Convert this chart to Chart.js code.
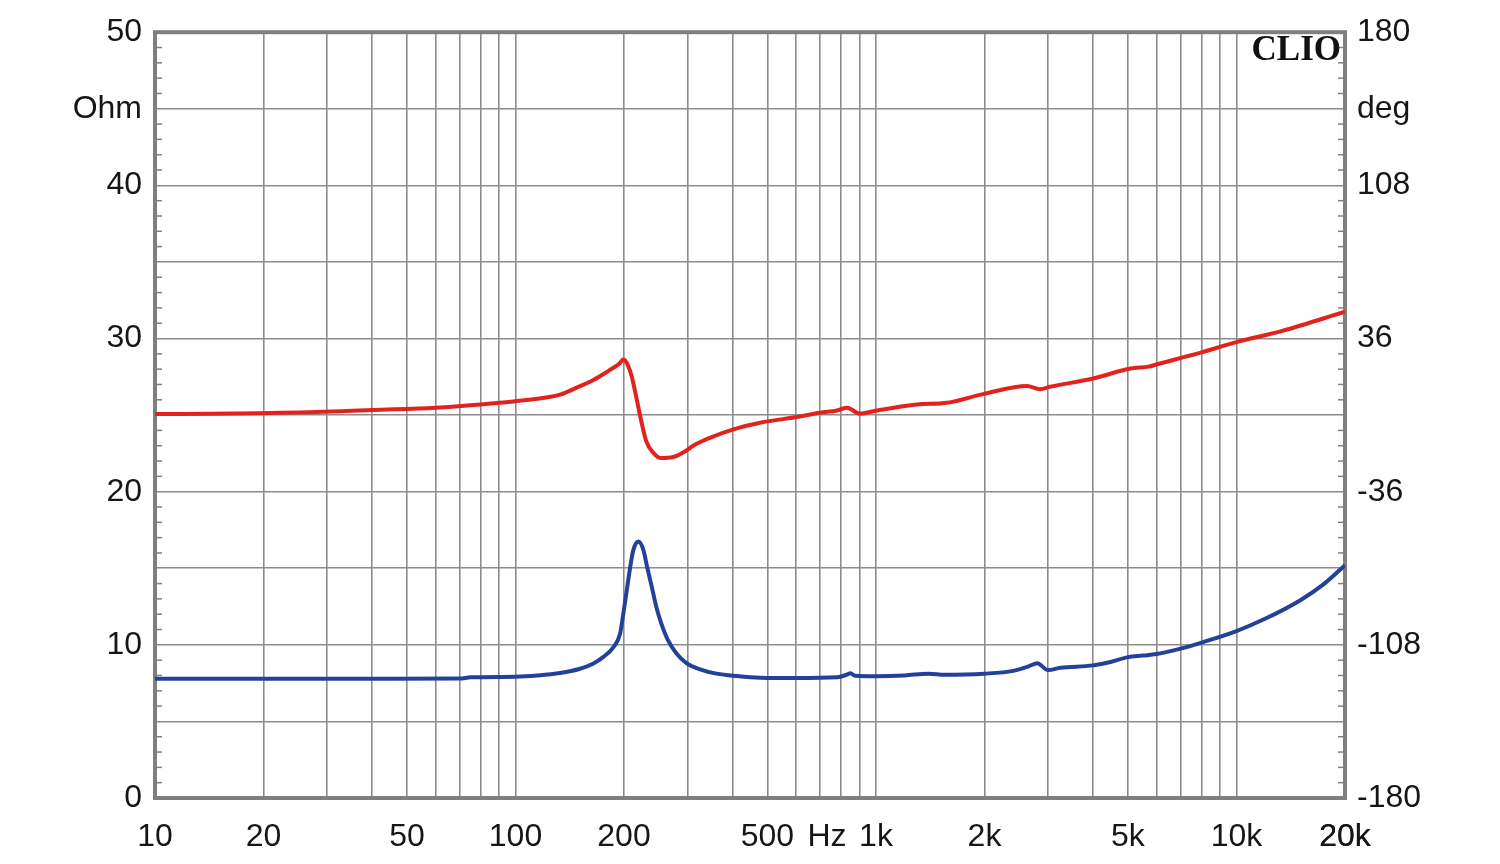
<!DOCTYPE html>
<html><head><meta charset="utf-8">
<script src="https://cdn.jsdelivr.net/npm/chart.js@4.4.1/dist/chart.umd.min.js"></script>
<style>html,body{margin:0;padding:0;background:#fff;} #wrap{width:1500px;height:864px;position:relative;}</style>
</head><body><div id="wrap"><canvas id="c"></canvas></div>
<script>
// ---- Data ----
const impFreq = [10, 20, 40, 70, 75, 100, 115, 133, 151, 164, 175, 187, 195, 199, 203.5, 208, 212, 219, 226, 232, 239, 246, 254, 265, 280, 298, 325, 361, 411, 477, 600, 780, 830, 850, 875, 1000, 1200, 1400, 1550, 2000, 2400, 2650, 2800, 3000, 3250, 4000, 4500, 5000, 5500, 6000, 7000, 8000, 10000, 12000, 15000, 17500, 20000];
const impOhm = [7.79, 7.79, 7.79, 7.8, 7.88, 7.92, 8.0, 8.16, 8.44, 8.77, 9.2, 9.85, 10.72, 12.0, 13.54, 15.05, 16.15, 16.75, 16.25, 15.05, 13.75, 12.45, 11.37, 10.29, 9.42, 8.81, 8.4, 8.12, 7.96, 7.85, 7.83, 7.88, 8.05, 8.15, 7.98, 7.95, 8.0, 8.12, 8.05, 8.12, 8.3, 8.6, 8.8, 8.35, 8.5, 8.66, 8.9, 9.2, 9.3, 9.4, 9.75, 10.15, 10.9, 11.7, 12.9, 13.98, 15.2];

const phaseFreq = [10, 17, 28, 40, 60, 80, 100, 125, 133, 151, 164, 181.5, 194, 199, 203.5, 210, 216.5, 223.4, 230.5, 240.8, 252.6, 274, 297, 311, 346, 402, 477, 615, 699, 780, 831, 903, 1007, 1299, 1574, 2006, 2624, 2850, 3039, 4000, 5090, 5710, 6000, 8000, 10000, 13400, 20000];
const phaseDeg = [0.5, 0.7, 1.4, 2.4, 3.5, 5.0, 6.5, 8.6, 9.6, 13.6, 16.4, 20.9, 24.1, 26.1, 24.5, 18.3, 8.1, -2.9, -12.2, -17.6, -20.2, -19.7, -16.8, -14.4, -10.7, -6.7, -3.6, -0.7, 1.1, 2.2, 3.4, 0.7, 2.2, 5.0, 5.8, 10.1, 13.7, 12.2, 13.3, 17.2, 21.9, 22.8, 23.8, 29.5, 34.3, 39.6, 48.6];

const xLabelValues = [10, 20, 50, 100, 200, 500, 1000, 2000, 5000, 10000, 20000];
const xLabelTexts = ['10', '20', '50', '100', '200', '500', '1k', '2k', '5k', '10k', '20k'];
const hzPos = 731;
const hzText = 'Hz';

const ohmLabelValues = [0, 10, 20, 30, 40, 45, 50];
const ohmLabelTexts = ['0', '10', '20', '30', '40', 'Ohm', '50'];
const degLabelValues = [-180, -108, -36, 36, 108, 144, 180];
const degLabelTexts = ['-180', '-108', '-36', '36', '108', 'deg', '180'];

// ---- Style ----
const RED = '#e2231d';
const BLUE = '#23409a';
const GRID = '#8c8c8c';
const TEXT = '#161616';
const FONT = '"Liberation Sans", Arial, sans-serif';
const FSIZE = 32;

const gridFreqs = [];
[10, 100, 1000, 10000].forEach(d => { for (let m = 1; m <= 9; m++) { const v = m * d; if (v <= 20000) gridFreqs.push(v); } });
gridFreqs.push(20000);

const framePlugin = {
  id: 'frame',
  beforeDatasetsDraw(chart) {
    const ctx = chart.ctx, ca = chart.chartArea;
    const ys = chart.scales.y, ys2 = chart.scales.y2;
    ctx.save();
    ctx.strokeStyle = '#808080';
    ctx.lineWidth = 1.5;
    for (let v = 0; v <= 50; v++) {
      if (v % 5 === 0) continue;
      const py = ys.getPixelForValue(v);
      ctx.beginPath(); ctx.moveTo(ca.left, py); ctx.lineTo(ca.left + 7, py); ctx.stroke();
      const py2 = ys2.getPixelForValue(v * 7.2 - 180);
      ctx.beginPath(); ctx.moveTo(ca.right - 7, py2); ctx.lineTo(ca.right, py2); ctx.stroke();
    }
    ctx.lineWidth = 4;
    ctx.strokeStyle = '#7f7f7f';
    ctx.strokeRect(ca.left, ca.top, ca.right - ca.left, ca.bottom - ca.top);
    ctx.restore();
  },
  afterDraw(chart) {
    const ctx = chart.ctx, ca = chart.chartArea;
    ctx.save();
    ctx.font = 'bold 35px "Liberation Serif", "Times New Roman", serif';
    ctx.fillStyle = '#111';
    ctx.textAlign = 'right';
    ctx.textBaseline = 'alphabetic';
    ctx.fillText('CLIO', ca.right - 4, 60);
    ctx.restore();
  }
};

new Chart(document.getElementById('c'), {
  type: 'line',
  data: {
    datasets: [
      {
        label: 'Impedance',
        data: impFreq.map((f, i) => ({ x: f, y: impOhm[i] })),
        yAxisID: 'y',
        borderColor: BLUE,
        borderWidth: 4,
        pointRadius: 0,
        cubicInterpolationMode: 'monotone',
        fill: false
      },
      {
        label: 'Phase',
        data: phaseFreq.map((f, i) => ({ x: f, y: phaseDeg[i] })),
        yAxisID: 'y2',
        borderColor: RED,
        borderWidth: 4,
        pointRadius: 0,
        cubicInterpolationMode: 'monotone',
        fill: false
      }
    ]
  },
  options: {
    responsive: true,
    maintainAspectRatio: false,
    animation: false,
    layout: { padding: { top: 30, left: 0, right: 0, bottom: 0 } },
    plugins: { legend: { display: false }, tooltip: { enabled: false } },
    scales: {
      x: {
        type: 'logarithmic',
        min: 10, max: 20000,
        afterBuildTicks(scale) {
          const t = gridFreqs.map(v => ({ value: v }));
          t.push({ value: hzPos });
          t.sort((a, b) => a.value - b.value);
          scale.ticks = t;
        },
        afterFit(scale) { scale.height = 66; },
        border: { display: false },
        grid: {
          color: (c) => (c.tick && c.tick.value === hzPos) ? 'rgba(0,0,0,0)' : GRID,
          lineWidth: 1.6,
          drawTicks: false
        },
        ticks: {
          autoSkip: false, maxRotation: 0, minRotation: 0,
          padding: 20,
          color: TEXT,
          font: { family: FONT, size: FSIZE },
          callback: (v) => {
            if (v === hzPos) return hzText;
            const i = xLabelValues.indexOf(v);
            return i >= 0 ? xLabelTexts[i] : '';
          }
        }
      },
      y: {
        type: 'linear', position: 'left',
        min: 0, max: 50,
        afterFit(scale) { scale.width = 155; },
        border: { display: false },
        grid: { color: GRID, lineWidth: 1.6, drawTicks: false },
        ticks: {
          stepSize: 5, autoSkip: false,
          padding: 13,
          color: TEXT,
          font: { family: FONT, size: FSIZE },
          callback: (v) => { const i = ohmLabelValues.indexOf(v); return i >= 0 ? ohmLabelTexts[i] : ''; }
        }
      },
      y2: {
        type: 'linear', position: 'right',
        min: -180, max: 180,
        afterFit(scale) { scale.width = 155; },
        border: { display: false },
        grid: { drawOnChartArea: false, drawTicks: false },
        ticks: {
          stepSize: 36, autoSkip: false,
          padding: 12,
          color: TEXT,
          font: { family: FONT, size: FSIZE },
          callback: (v) => { const i = degLabelValues.indexOf(v); return i >= 0 ? degLabelTexts[i] : ''; }
        }
      }
    }
  },
  plugins: [framePlugin]
});
</script></body></html>
